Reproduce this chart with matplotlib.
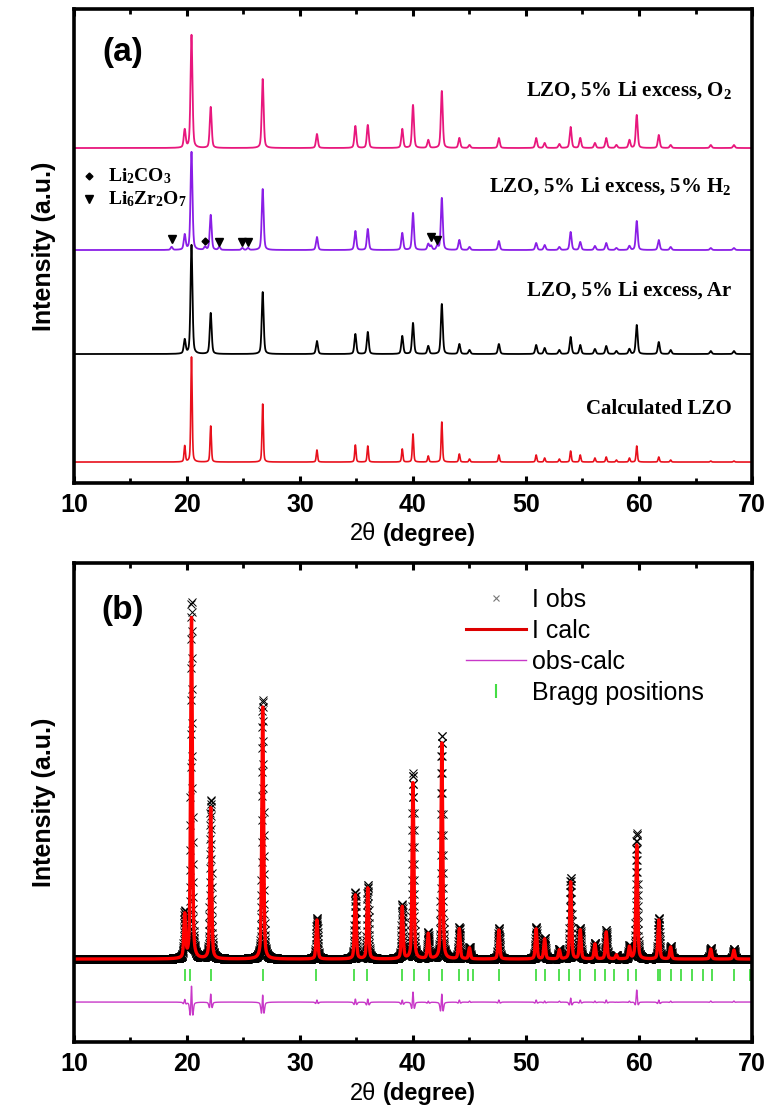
import numpy as np
import matplotlib
matplotlib.use('Agg')
import matplotlib.pyplot as plt
from matplotlib.lines import Line2D
from matplotlib.ticker import MultipleLocator

plt.rcParams['font.family'] = ['Liberation Sans', 'DejaVu Sans']
plt.rcParams['mathtext.fontset'] = 'custom'
plt.rcParams['mathtext.rm'] = 'Liberation Serif:bold'
plt.rcParams['mathtext.it'] = 'Liberation Serif:bold'
plt.rcParams['mathtext.bf'] = 'Liberation Serif:bold'

# reflection positions (2theta)
peak_pos = [19.8, 20.4, 22.1, 26.7, 31.5, 34.9, 36.0, 39.05, 40.0, 41.35, 42.55, 44.1, 45.0,
            47.6, 50.9, 51.65, 52.95, 53.95, 54.8, 56.1, 57.1, 58.0, 59.15, 59.8, 61.75,
            62.8, 66.35, 68.4]

# panel (a) peak heights (a.u.)
h_calc = [16, 105, 36, 58, 12, 17, 16, 13, 28, 6, 40, 8, 3, 7, 7, 4, 3, 11, 7, 4, 5, 2, 4, 16, 5, 2, 1, 1]
h_ar = [14, 109, 41, 62, 13, 20, 22, 18, 31, 8, 50, 10, 4, 10, 9, 6, 4, 17, 9, 5, 8, 3, 5, 29, 12, 4, 3, 3]
h_h2 = [15, 98, 35, 61, 13, 19, 21, 17, 37, 6, 52, 10, 3, 9, 7, 5, 3, 18, 8, 4, 7, 2, 4, 29, 10, 3, 2, 2]
h_o2 = [18, 113, 41, 69, 14, 22, 23, 19, 43, 8, 57, 10, 3, 10, 10, 5, 4, 21, 10, 5, 10, 3, 8, 33, 13, 3, 3, 3]

# impurity reflections seen in the H2 pattern
imp_pos = [18.64, 21.6, 22.86, 24.9, 25.4, 41.6, 42.15]
imp_h = [3, 3, 3, 2, 2, 4, 4]
tri_pos = [18.64, 22.86, 24.9, 25.4, 41.6, 42.15]
tri_y = [11, 8, 8, 8, 13, 10]
dia_pos = [21.6]
dia_y = [9]

offsets = {'calc': 21, 'ar': 129, 'h2': 233, 'o2': 335}
labels_a = ['Calculated LZO', 'LZO, 5% Li excess, Ar',
            r'LZO, 5% Li excess, 5% H$_2$', r'LZO, 5% Li excess, O$_2$']
label_y = [74, 192, 297, 393]

# panel (b) Rietveld refinement
h_obs_b = [46, 357, 159, 259, 41, 67, 74, 54, 186, 26, 224, 32, 12, 31, 32, 21, 10, 81, 31,
           16, 29, 4, 13, 126, 41, 13, 11, 10]
h_calc_b = [43, 341, 151, 252, 39, 64, 71, 52, 176, 25, 216, 30, 11, 29, 30, 20, 9, 77, 29,
            15, 27, 4, 12, 114, 39, 12, 10, 9]
bragg_pos = [19.8, 20.3, 22.1, 26.75, 31.4, 34.8, 35.9, 39.0, 40.05, 41.4, 42.6, 44.1, 44.9,
             45.3, 47.6, 50.9, 51.7, 52.9, 53.8, 54.8, 56.1, 57.0, 57.8, 59.0, 59.7, 61.7,
             61.9, 62.8, 63.7, 64.7, 65.7, 66.5, 68.4, 69.8]
base_b = 83
bragg_y = 67
diff_off = 40


def profile(x, pos, heights, fwhm, eta=0.4):
    y = np.zeros_like(x)
    for p, h in zip(pos, heights):
        d = (x - p) / (fwhm / 2)
        y += h * (eta / (1 + d ** 2) + (1 - eta) * np.exp(-np.log(2) * d ** 2))
    return y


def style_axes(ax):
    ax.set_xlim(10, 70)
    ax.xaxis.set_major_locator(MultipleLocator(10))
    ax.xaxis.set_minor_locator(MultipleLocator(5))
    ax.tick_params(axis='x', which='both', direction='in', top=True, bottom=True)
    ax.tick_params(axis='x', which='major', length=5, width=2.2, pad=7, labelsize=18)
    ax.tick_params(axis='x', which='minor', length=3.5, width=2)
    ax.set_yticks([])
    for lab in ax.get_xticklabels():
        lab.set_fontweight('bold')
    for s in ax.spines.values():
        s.set_linewidth(2.6)
    # "2θ" regular, "(degree)" bold, as in the original
    ax.text(0.4454, -0.108, '2θ', transform=ax.transAxes, ha='right', va='center',
            fontsize=17)
    ax.text(0.4558, -0.108, '(degree)', transform=ax.transAxes, ha='left', va='center',
            fontsize=17, fontweight='bold')
    ax.set_ylabel('Intensity (a.u.)', fontsize=18, fontweight='bold')
    ax.yaxis.set_label_coords(-0.026, 0.5)


fig = plt.figure(figsize=(7.69, 11.14), dpi=100)
ax1 = fig.add_axes([0.0962, 0.5664, 0.8817, 0.4255])
ax2 = fig.add_axes([0.0962, 0.0646, 0.8817, 0.4300])

# ---- panel (a)
x = np.arange(10, 70.0001, 0.01)
ax1.plot(x, offsets['calc'] + profile(x, peak_pos, h_calc, 0.14), color='#e8101c', lw=1.2)
ax1.plot(x, offsets['ar'] + profile(x, peak_pos, h_ar, 0.2), color='black', lw=1.3)
h2 = profile(x, peak_pos, h_h2, 0.2) + profile(x, imp_pos, imp_h, 0.2)
ax1.plot(x, offsets['h2'] + h2, color='#8a1ee6', lw=1.3)
ax1.plot(x, offsets['o2'] + profile(x, peak_pos, h_o2, 0.2), color='#e8177d', lw=1.3)

ax1.plot(tri_pos, np.array(tri_y) + offsets['h2'], 'v', color='black', ms=6)
ax1.plot(dia_pos, np.array(dia_y) + offsets['h2'], 'D', color='black', ms=3.5)

for lab, ly in zip(labels_a, label_y):
    ax1.text(68.2, ly, lab, ha='right', va='center', fontsize=15, fontweight='bold',
             family='Liberation Serif')

ax1.plot([11.35], [307], 'D', color='black', ms=3.5)
ax1.plot([11.35], [284], 'v', color='black', ms=6)
ax1.text(13.0, 307, r'Li$_2$CO$_3$', ha='left', va='center', fontsize=14,
         fontweight='bold', family='Liberation Serif')
ax1.text(13.0, 284, r'Li$_6$Zr$_2$O$_7$', ha='left', va='center', fontsize=14,
         fontweight='bold', family='Liberation Serif')
ax1.text(14.3, 431, '(a)', ha='center', va='center', fontsize=24, fontweight='bold')
ax1.set_ylim(0, 474)
style_axes(ax1)

# ---- panel (b)
xb = np.arange(10, 70.0001, 0.012)
y_obs = base_b + profile(xb, peak_pos, h_obs_b, 0.17)
xc = np.arange(10, 70.0001, 0.005)
y_calc = base_b + profile(xc, peak_pos, h_calc_b, 0.185)
y_calc_on_b = base_b + profile(xb, peak_pos, h_calc_b, 0.185)
y_diff = diff_off + (y_obs - y_calc_on_b)

ax2.plot(xb, y_obs, 'x', color='black', ms=5.5, mew=0.7)
ax2.plot(xc, y_calc, color='#ff0000', lw=2.4)
ax2.plot(xb, y_diff, color='#c838c8', lw=1.0)
ax2.plot(bragg_pos, [bragg_y] * len(bragg_pos), '|', color='#44dd44', ms=9, mew=1.3)
ax2.text(14.3, 432, '(b)', ha='center', va='center', fontsize=24, fontweight='bold')
ax2.set_ylim(0, 479)
style_axes(ax2)

handles = [Line2D([], [], ls='none', marker='x', color='#777777', ms=5, mew=0.8),
           Line2D([], [], color='#dd0000', lw=2.2),
           Line2D([], [], color='#c838c8', lw=1.0),
           Line2D([], [], ls='none', marker='|', color='#44dd44', ms=10, mew=1.5)]
ax2.legend(handles, ['I obs', 'I calc', 'obs-calc', 'Bragg positions'],
           loc='upper left', bbox_to_anchor=(0.56, 0.974), frameon=False, fontsize=18,
           handlelength=2.4, handletextpad=0.25, labelspacing=0.28, borderpad=0,
           numpoints=1)

fig.savefig('out.png', dpi=100)
